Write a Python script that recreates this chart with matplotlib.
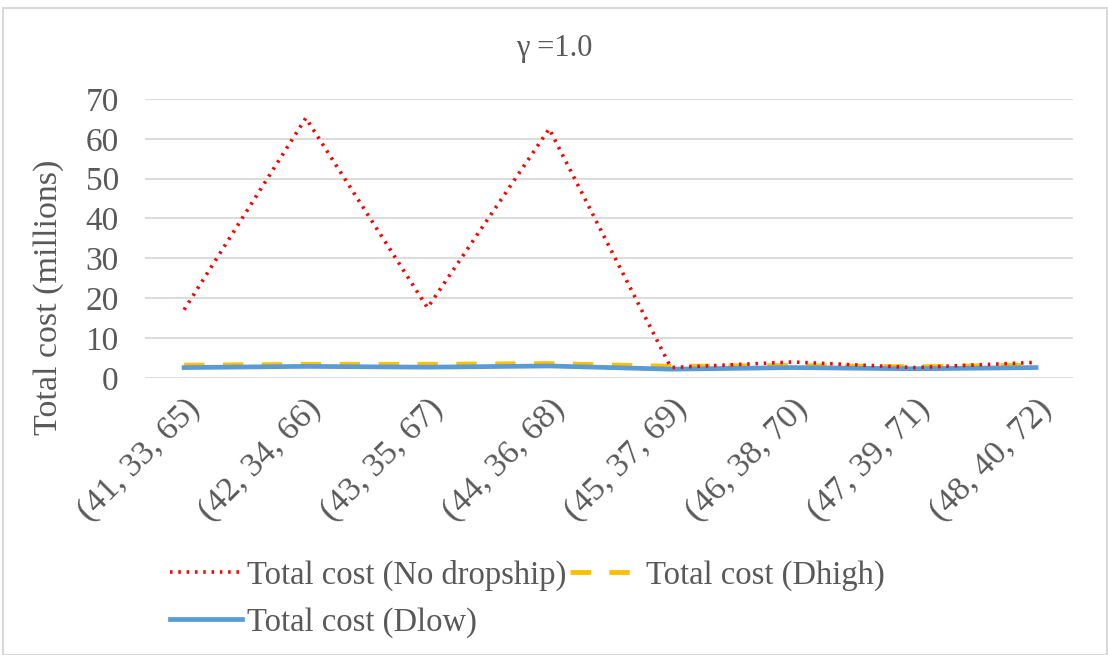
import matplotlib
matplotlib.use("Agg")
import matplotlib.pyplot as plt
from matplotlib.patches import Rectangle

categories = ["(41, 33, 65)", "(42, 34, 66)", "(43, 35, 67)", "(44, 36, 68)",
              "(45, 37, 69)", "(46, 38, 70)", "(47, 39, 71)", "(48, 40, 72)"]
no_dropship = [17.1, 65.2, 17.6, 62.5, 2.6, 4.0, 2.6, 3.9]
d_high = [3.2, 3.4, 3.4, 3.6, 2.9, 3.1, 2.8, 3.2]
d_low = [2.6, 2.9, 2.7, 3.0, 2.2, 2.6, 2.3, 2.6]

TEXT = "#595959"
plt.rcParams["font.family"] = ["Liberation Serif", "DejaVu Serif"]

fig = plt.figure(figsize=(11.08, 6.55), dpi=100)
ax = fig.add_axes([0.131, 0.423, 0.837, 0.426])

x = list(range(len(categories)))
h_no, = ax.plot(x, no_dropship, color="#FF0000", linestyle=(0, (0.7, 1.6)),
                linewidth=2.6, label="Total cost (No dropship)", zorder=3)
h_hi, = ax.plot(x, d_high, color="#FFC000", linestyle=(0, (4.2, 3.8)),
                linewidth=3.5, label="Total cost (Dhigh)", zorder=2)
h_lo, = ax.plot(x, d_low, color="#5B9BD5", linewidth=3.4,
                label="Total cost (Dlow)", zorder=2)

ax.set_xlim(-0.32, 7.3)
ax.set_ylim(0, 70)
ax.set_yticks(range(0, 71, 10))
ax.grid(axis="y", color="#d9d9d9", linewidth=1.3)
ax.set_axisbelow(True)
for s in ax.spines.values():
    s.set_visible(False)
ax.tick_params(axis="y", length=0, pad=19, labelsize=24, labelcolor=TEXT)
ax.tick_params(axis="x", length=0, pad=11, labelsize=24.5, labelcolor=TEXT)
ax.set_xticks(x)
ax.set_xticklabels(categories, rotation=45, ha="right", va="top",
                   rotation_mode="anchor")
ax.set_ylabel("Total cost (millions)", fontsize=24.5, color=TEXT, va="center")
ax.yaxis.set_label_coords(-0.104, 0.29)
# title sits over the middle of the whole chart, not the plot area
fig.text(0.5, 0.926, "\u03b3 =1.0", fontsize=22, color=TEXT, ha="center", va="center")

leg = fig.legend([h_no, h_lo, h_hi],
                 ["Total cost (No dropship)", "Total cost (Dlow)", "Total cost (Dhigh)"],
                 ncol=2, loc="upper left", bbox_to_anchor=(0.142, 0.166),
                 frameon=False, fontsize=23.5, handlelength=2.2,
                 handletextpad=0.15, columnspacing=0.1, labelspacing=0.5,
                 borderaxespad=0)
for t in leg.get_texts():
    t.set_color(TEXT)

fig.patches.append(Rectangle((0.003, 0.0), 0.996, 0.988, transform=fig.transFigure,
                             fill=False, edgecolor="#d9d9d9", linewidth=1.5))

fig.savefig("out.png", dpi=100)
